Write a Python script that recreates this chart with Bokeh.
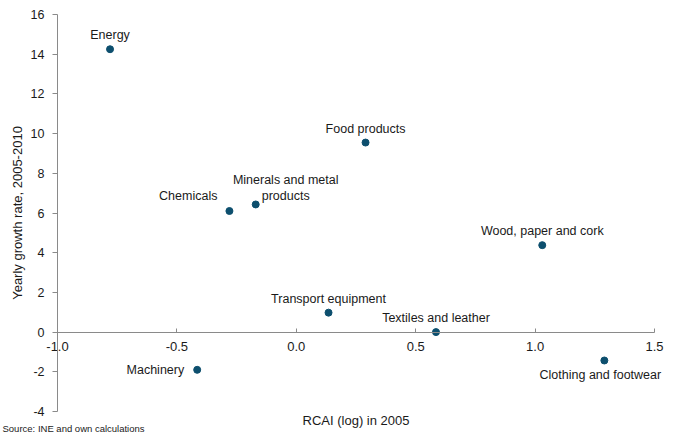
from bokeh.plotting import figure
from bokeh.models import Range1d, FixedTicker, PrintfTickFormatter, ColumnDataSource, Label
from bokeh.core.properties import value
from bokeh.embed import file_html
from bokeh.resources import INLINE

# ---- data ----
sectors = ["Energy", "Food products", "Chemicals", "Minerals and metal products",
           "Wood, paper and cork", "Transport equipment", "Textiles and leather",
           "Machinery", "Clothing and footwear"]
rcai_log_2005 = [-0.78, 0.29, -0.28, -0.17, 1.03, 0.135, 0.585, -0.415, 1.29]
growth_2005_2010 = [14.25, 9.55, 6.1, 6.43, 4.38, 0.98, 0.0, -1.9, -1.43]
x_ticks = [-1.0, -0.5, 0.0, 0.5, 1.0, 1.5]
y_ticks = [-4, -2, 0, 2, 4, 6, 8, 10, 12, 14, 16]

x_title = "RCAI (log) in 2005"
y_title = "Yearly growth rate, 2005-2010"
source_note = "Source: INE and own calculations"

# ---- label placement (style only) ----
placement = {
    "Energy": ("center", "middle", 0, -14),
    "Food products": ("center", "middle", 0, -14),
    "Chemicals": ("right", "middle", -12, -15),
    "Minerals and metal products": ("center", "bottom", 30, -1),
    "Wood, paper and cork": ("center", "middle", 0, -14),
    "Transport equipment": ("center", "middle", 0, -14),
    "Textiles and leather": ("center", "middle", 0, -14),
    "Machinery": ("right", "middle", -13, 0),
    "Clothing and footwear": ("center", "middle", -4, 15),
}
display_text = {"Minerals and metal products": "Minerals and metal\nproducts"}

FONT = "Liberation Sans"
TXT = "#1a1a1a"
AXC = "#8a8a8a"
DOT = "#0d4f6e"

# ---- layout: the frame covers the whole canvas, axes sit at fixed data positions ----
W, H = 677, 434
AX_L, AX_R, AX_T, AX_B = 57, 654, 14, 411   # pixel box of the axis area
xs = (AX_R - AX_L) / (x_ticks[-1] - x_ticks[0])
ys = (AX_B - AX_T) / (y_ticks[-1] - y_ticks[0])
x_range = Range1d(x_ticks[0] - AX_L / xs, x_ticks[-1] + (W - AX_R) / xs)
y_range = Range1d(y_ticks[0] - (H - AX_B) / ys, y_ticks[-1] + AX_T / ys)

p = figure(width=W, height=H, x_range=x_range, y_range=y_range,
           output_backend="svg", toolbar_location=None,
           min_border=0, min_border_left=0, min_border_right=0,
           min_border_top=0, min_border_bottom=0)
p.outline_line_color = None
p.xgrid.visible = False
p.ygrid.visible = False
p.background_fill_color = "white"
p.border_fill_color = "white"

xa = p.xaxis[0]
xa.fixed_location = 0
xa.bounds = (x_ticks[0], x_ticks[-1])
xa.ticker = FixedTicker(ticks=x_ticks)
xa.formatter = PrintfTickFormatter(format="%.1f")
xa.axis_line_color = AXC
xa.major_tick_line_color = AXC
xa.major_tick_in = 4
xa.major_tick_out = 0
xa.minor_tick_line_color = None
xa.major_label_standoff = 10
xa.major_label_text_font = FONT
xa.major_label_text_font_size = "13px"
xa.major_label_text_color = TXT

ya = p.yaxis[0]
ya.fixed_location = x_ticks[0]
ya.bounds = (y_ticks[0], y_ticks[-1])
ya.ticker = FixedTicker(ticks=y_ticks)
ya.formatter = PrintfTickFormatter(format="%d")
ya.axis_line_color = AXC
ya.major_tick_line_color = AXC
ya.major_tick_in = 0
ya.major_tick_out = 5
ya.minor_tick_line_color = None
ya.major_label_standoff = 8
ya.major_label_text_font = FONT
ya.major_label_text_font_size = "12.5px"
ya.major_label_text_color = TXT
ya.axis_label = y_title
ya.axis_label_text_font = FONT
ya.axis_label_text_font_size = "13px"
ya.axis_label_text_font_style = "normal"
ya.axis_label_text_color = TXT
ya.axis_label_standoff = 3

src = ColumnDataSource(dict(
    x=rcai_log_2005, y=growth_2005_2010,
    label=[display_text.get(s, s) for s in sectors],
    align=[placement[s][0] for s in sectors],
    base=[placement[s][1] for s in sectors],
    dx=[placement[s][2] for s in sectors],
    dy=[placement[s][3] for s in sectors],
))

p.scatter("x", "y", source=src, size=7, fill_color=DOT, line_color=DOT)
p.text("x", "y", text="label", source=src, text_align="align", text_baseline="base",
       x_offset="dx", y_offset="dy", text_font=value(FONT), text_font_size="12.5px",
       text_color=TXT, text_line_height=1.15)

p.add_layout(Label(x=0.25, y=H - 420, x_units="data", y_units="screen", text=x_title,
                   text_align="center", text_baseline="middle", text_font=FONT,
                   text_font_size="13px", text_color=TXT))
p.add_layout(Label(x=2, y=H - 428, x_units="screen", y_units="screen", text=source_note,
                   text_align="left", text_baseline="middle", text_font=FONT,
                   text_font_size="9.5px", text_color=TXT))

open("out.html", "w").write(file_html(p, INLINE))
